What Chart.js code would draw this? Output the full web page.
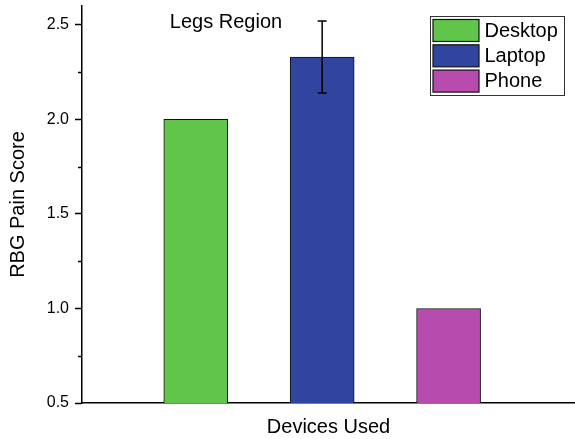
<!DOCTYPE html>
<html>
<head>
<meta charset="utf-8">
<title>Legs Region</title>
<script src="https://cdn.jsdelivr.net/npm/chart.js@4/dist/chart.umd.min.js"></script>
<style>
  html, body { margin: 0; padding: 0; background: #ffffff; }
  #wrap { width: 575px; height: 439px; position: relative; }
</style>
</head>
<body>
<div id="wrap"><canvas id="chart"></canvas></div>
<script>
// Mean pain score per device, with its error (0 = no error bar drawn)
const devices     = ['Desktop', 'Laptop', 'Phone'];
const painScores  = [2.0, 2.33, 1.0];
const painErrors  = [0, 0.19, 0];
const barColors   = ['#62c54b', '#2f45a0', '#b84bae'];
const yMajorTicks = [0.5, 1.0, 1.5, 2.0, 2.5];
const yMinorTicks = [0.75, 1.25, 1.75, 2.25];
const panelTitle  = 'Legs Region';
const xAxisTitle  = 'Devices Used';
const yAxisTitle  = 'RBG Pain Score';

const FONT = "'Liberation Sans', Arial, Helvetica, sans-serif";

// error bars with short caps
const errorBars = {
  id: 'errorBars',
  afterDatasetsDraw(chart) {
    const ctx = chart.ctx;
    const y = chart.scales.y;
    ctx.save();
    ctx.strokeStyle = '#000';
    ctx.lineWidth = 1.5;
    chart.data.datasets.forEach((ds, i) => {
      const err = painErrors[i];
      if (!err) return;
      const bar = chart.getDatasetMeta(i).data[0];
      const yHi = y.getPixelForValue(painScores[i] + err);
      const yLo = y.getPixelForValue(painScores[i] - err);
      ctx.beginPath();
      ctx.moveTo(bar.x, yHi); ctx.lineTo(bar.x, yLo);
      ctx.moveTo(bar.x - 4.5, yHi); ctx.lineTo(bar.x + 4.5, yHi);
      ctx.moveTo(bar.x - 4.5, yLo); ctx.lineTo(bar.x + 4.5, yLo);
      ctx.stroke();
    });
    ctx.restore();
  }
};

// minor tick marks between the labelled ones on the value axis
const minorTicks = {
  id: 'minorTicks',
  afterDraw(chart) {
    const ctx = chart.ctx;
    const y = chart.scales.y;
    const x0 = chart.chartArea.left;
    ctx.save();
    ctx.strokeStyle = '#000';
    ctx.lineWidth = 1.5;
    ctx.beginPath();
    yMinorTicks.forEach(v => {
      const py = Math.round(y.getPixelForValue(v)) + 0.5;
      ctx.moveTo(x0 - 4, py); ctx.lineTo(x0, py);
    });
    ctx.stroke();
    ctx.restore();
  }
};

// panel caption and framed legend inside the plot
const panelDecor = {
  id: 'panelDecor',
  afterDraw(chart) {
    const ctx = chart.ctx;
    ctx.save();
    ctx.fillStyle = '#000';
    ctx.font = '20px ' + FONT;
    ctx.textAlign = 'center';
    ctx.textBaseline = 'alphabetic';
    ctx.fillText(panelTitle, 226, 27.5);

    // legend frame
    ctx.strokeStyle = '#333';
    ctx.lineWidth = 1;
    ctx.strokeRect(430.5, 16.5, 134, 79);

    chart.data.datasets.forEach((ds, i) => {
      const top = 19.5 + i * 25.3;
      ctx.fillStyle = ds.backgroundColor;
      ctx.fillRect(433, top, 46, 22);
      ctx.strokeStyle = '#111';
      ctx.lineWidth = 1.2;
      ctx.strokeRect(433, top, 46, 22);
      ctx.fillStyle = '#000';
      ctx.textAlign = 'left';
      ctx.textBaseline = 'middle';
      ctx.fillText(ds.label, 484.5, top + 11.5);
    });
    ctx.restore();
  }
};

const datasets = devices.map((name, i) => ({
  label: name,
  data: [{ x: i + 1, y: painScores[i] }],
  backgroundColor: barColors[i],
  borderColor: '#111',
  borderWidth: 1,
  borderSkipped: 'bottom',
  barThickness: 64,
  grouped: false,
  clip: 0
}));

new Chart(document.getElementById('chart'), {
  type: 'bar',
  data: { datasets },
  options: {
    responsive: true,
    maintainAspectRatio: false,
    animation: false,
    devicePixelRatio: 1,
    layout: { padding: { top: 6, left: 0, right: 0, bottom: 0 } },
    plugins: {
      legend: { display: false },
      tooltip: { enabled: false },
      title: { display: false }
    },
    scales: {
      x: {
        type: 'linear',
        min: 0.1,
        max: 4.0,
        offset: false,
        z: 1,
        grid: { display: false, offset: false },
        ticks: { display: false },
        border: { display: true, color: '#000', width: 1.5 },
        title: {
          display: true,
          text: xAxisTitle,
          color: '#000',
          font: { family: FONT, size: 20 },
          padding: { top: 0, bottom: 0 }
        },
        afterFit(scale) {
          scale.height = 36;
          scale.paddingLeft = 0;
          scale.paddingRight = 0;
        }
      },
      y: {
        type: 'linear',
        min: 0.5,
        max: 2.6,
        z: 1,
        afterBuildTicks(scale) {
          scale.ticks = yMajorTicks.map(v => ({ value: v }));
        },
        ticks: {
          color: '#000',
          padding: 6,
          font: { family: FONT, size: 16 },
          callback: v => Number(v).toFixed(1)
        },
        grid: {
          display: true,
          drawOnChartArea: false,
          drawTicks: true,
          tickLength: 7,
          tickWidth: 1.5,
          tickColor: '#000'
        },
        border: { display: true, color: '#000', width: 1.5 },
        title: {
          display: true,
          text: yAxisTitle,
          color: '#000',
          font: { family: FONT, size: 20 },
          padding: { top: 6, bottom: 0 }
        },
        afterFit(scale) {
          scale.width = 82;
          scale.paddingTop = 0;
          scale.paddingBottom = 0;
        }
      }
    }
  },
  plugins: [errorBars, minorTicks, panelDecor]
});
</script>
</body>
</html>
